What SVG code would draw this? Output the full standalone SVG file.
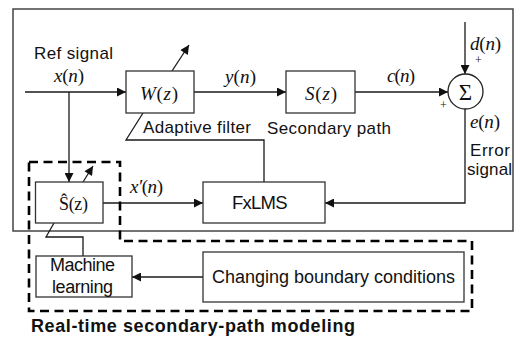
<svg xmlns="http://www.w3.org/2000/svg" width="520" height="339" viewBox="0 0 520 339">
<style>
.ln{fill:none;stroke:#1a1a1a;stroke-width:1.3}
.box{fill:#fff;stroke:#333;stroke-width:1.3}
.t{font-family:"Liberation Sans",Arial,sans-serif;font-size:17px;fill:#111}
.m{font-family:"Liberation Serif","Times New Roman",serif;font-size:19px;fill:#111}
.i{font-style:italic}
.dash{fill:none;stroke:#000;stroke-width:2.6;stroke-dasharray:9 5.5}
</style>
<defs>
<marker id="ah" viewBox="0 0 10 10" refX="10" refY="5" markerWidth="11" markerHeight="9" markerUnits="userSpaceOnUse" orient="auto">
<path d="M0,0 L10,5 L0,10 Z" fill="#111"/>
</marker>
</defs>
<rect x="0" y="0" width="520" height="339" fill="#fff"/>
<rect id="frame" x="13" y="9" width="500" height="222" fill="none" stroke="#444" stroke-width="1.5"/>
<g id="connectors">
<line class="ln" x1="25" y1="92" x2="126" y2="92" marker-end="url(#ah)"/>
<line class="ln" x1="194" y1="92" x2="286" y2="92" marker-end="url(#ah)"/>
<line class="ln" x1="355" y1="92" x2="448" y2="92" marker-end="url(#ah)"/>
<line class="ln" x1="465" y1="22" x2="465" y2="74" marker-end="url(#ah)"/>
<polyline class="ln" points="465,109 465,203 325,203" marker-end="url(#ah)"/>
<line class="ln" x1="69" y1="92" x2="69" y2="182" marker-end="url(#ah)"/>
<line class="ln" x1="172" y1="71" x2="189" y2="45" marker-end="url(#ah)"/>
<line class="ln" x1="83" y1="182" x2="93" y2="166" marker-end="url(#ah)"/>
<polyline class="ln" points="143,113 126,140 264,140 264,182"/>
<line class="ln" x1="103" y1="203" x2="203" y2="203" marker-end="url(#ah)"/>
<line class="ln" x1="203" y1="277" x2="132" y2="277" marker-end="url(#ah)"/>
<polyline class="ln" points="54,223 46,237 83,237 83,256"/>
</g>
<g id="W">
<rect class="box" x="126" y="71" width="68" height="42"/>
<text class="m" x="140" y="100" textLength="38"><tspan class="i">W</tspan>(<tspan class="i">z</tspan>)</text>
</g>
<g id="S">
<rect class="box" x="286" y="71" width="69" height="42"/>
<text class="m" x="305" y="100" textLength="32"><tspan class="i">S</tspan>(<tspan class="i">z</tspan>)</text>
</g>
<g id="sum">
<circle cx="465.5" cy="91.5" r="17.5" fill="#fff" stroke="#222" stroke-width="1.3"/>
<text x="465.5" y="99.5" text-anchor="middle" style="font-family:'Liberation Serif',serif;font-size:23px;fill:#111">Σ</text>
<text x="475" y="64" style="font-family:'Liberation Serif',serif;font-size:12px;fill:#111">+</text>
<text x="440" y="109" style="font-family:'Liberation Serif',serif;font-size:12px;fill:#111">+</text>
</g>
<g id="Shat">
<rect class="box" x="35.5" y="182" width="67.5" height="41"/>
<text class="m" x="59" y="210" textLength="29" style="font-size:18px">Ŝ(z)</text>
</g>
<g id="FxLMS">
<rect class="box" x="203" y="182" width="122" height="41"/>
<text class="t" x="232" y="208.5" textLength="55.5" style="font-size:18.5px">FxLMS</text>
</g>
<g id="ML">
<rect class="box" x="36" y="256" width="96" height="41"/>
<text class="t" x="50" y="271" textLength="65" style="font-size:18px">Machine</text>
<text class="t" x="52" y="292.5" textLength="61" style="font-size:18px">learning</text>
</g>
<g id="CBC">
<rect class="box" x="203" y="252" width="261" height="50"/>
<text class="t" x="212" y="282.5" textLength="243" style="font-size:18px">Changing boundary conditions</text>
</g>
<g id="RT">
<polygon class="dash" points="29,162 120,162 120,241 472,241 472,311 29,311"/>
</g>
<g id="labels">
<text class="t" x="34" y="59" textLength="79">Ref signal</text>
<text class="m" x="54" y="82" textLength="30"><tspan class="i">x</tspan>(<tspan class="i">n</tspan>)</text>
<text class="m" x="225" y="83" textLength="31"><tspan class="i">y</tspan>(<tspan class="i">n</tspan>)</text>
<text class="m" x="387" y="82" textLength="28"><tspan class="i">c</tspan>(<tspan class="i">n</tspan>)</text>
<text class="m" x="470" y="50" textLength="31"><tspan class="i">d</tspan>(<tspan class="i">n</tspan>)</text>
<text class="m" x="470" y="128" textLength="30"><tspan class="i">e</tspan>(<tspan class="i">n</tspan>)</text>
<text class="m" x="130" y="193" textLength="33"><tspan class="i">x′</tspan>(<tspan class="i">n</tspan>)</text>
<text class="t" x="143" y="133" textLength="108">Adaptive filter</text>
<text class="t" x="267" y="134" textLength="124">Secondary path</text>
<text class="t" x="470" y="156" textLength="40">Error</text>
<text class="t" x="467" y="175" textLength="45">signal</text>
<text class="t" x="31" y="332" textLength="324" style="font-size:18px;font-weight:bold">Real-time secondary-path modeling</text>
</g>
</svg>
